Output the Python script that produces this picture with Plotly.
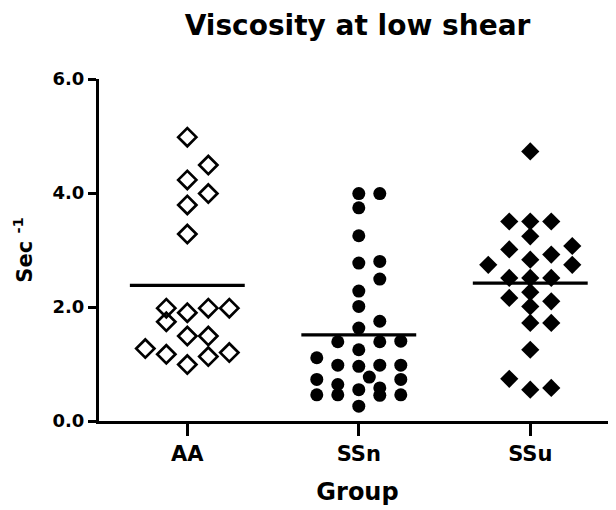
import plotly.graph_objects as go

# ---- data ----
categories = ["AA", "SSn", "SSu"]

aa_values = [4.98, 4.49, 4.23, 3.99, 3.79, 3.28,
             1.98, 1.90, 1.98, 1.98, 1.74, 1.49, 1.49,
             1.27, 1.17, 0.99, 1.13, 1.20]

ssn_values = [3.99, 3.99, 3.74, 3.25, 2.77, 2.80, 2.49, 2.28, 2.01, 1.75, 1.63,
              1.39, 1.39, 1.40, 1.25, 1.11, 0.98, 0.98, 0.98, 0.96,
              0.77, 0.73, 0.73, 0.64, 0.58, 0.55, 0.46, 0.46, 0.46, 0.45, 0.26]

ssu_values = [4.73, 3.50, 3.50, 3.50, 3.24, 3.01, 3.07, 2.92, 2.83, 2.74, 2.74,
              2.51, 2.51, 2.51, 2.26, 2.16, 2.01, 2.10, 1.72, 1.72,
              1.25, 0.74, 0.55, 0.58]

group_means = [2.38, 1.51, 2.42]

y_ticks = [0, 2, 4, 6]

# ---- layout constants ----
# the page body has an 8px margin, so the figure is drawn 8px right/down
PAGE_OFF = 8
W, H = 616 - PAGE_OFF, 510 - PAGE_OFF
ML, MR, MT, MB = 99 - PAGE_OFF, 0, 79 - PAGE_OFF, 89
X_RANGE = [-0.515, 2.5]
Y_RANGE = [0, 6]
px_per_x = (W - ML - MR) / (X_RANGE[1] - X_RANGE[0])
px_per_y = (H - MT - MB) / (Y_RANGE[1] - Y_RANGE[0])
SLOT_PX = 21.0
FONT = "DejaVu Sans, Verdana, sans-serif"


def swarm_offsets(values, row_px):
    """Row-binned scatter: close values share a row, spread centre-out."""
    pattern = [0, 1, -1, 2, -2, 0.5, -0.5, 1.5, -1.5, 3, -3]
    order = sorted(range(len(values)), key=lambda i: values[i])
    offs = [0.0] * len(values)
    rows, row, start = [], [], None
    for i in order:
        y = values[i] * px_per_y
        if start is None or y - start > row_px:
            if row:
                rows.append(row)
            row, start = [i], y
        else:
            row.append(i)
    if row:
        rows.append(row)
    for r in rows:
        for k, i in enumerate(r):
            offs[i] = pattern[k] * SLOT_PX / px_per_x
    return offs


fig = go.Figure()

groups = [
    (aa_values, dict(symbol="diamond-open", size=14, color="black",
                     line=dict(width=2.7, color="black")), 16),
    (ssn_values, dict(symbol="circle", size=13, color="black",
                      line=dict(width=0)), 13),
    (ssu_values, dict(symbol="diamond", size=14, color="black",
                      line=dict(width=0)), 14),
]

for gi, (vals, mk, rowh) in enumerate(groups):
    offs = swarm_offsets(vals, rowh)
    fig.add_trace(go.Scatter(
        x=[gi + o for o in offs], y=vals, mode="markers",
        marker=mk, showlegend=False, cliponaxis=False,
        hoverinfo="y"))

half = 0.335
for gi, m in enumerate(group_means):
    fig.add_trace(go.Scatter(
        x=[gi - half, gi + half], y=[m, m], mode="lines",
        line=dict(color="black", width=3.2), showlegend=False,
        hoverinfo="skip"))

fig.update_layout(
    width=W, height=H,
    margin=dict(l=ML, r=MR, t=MT, b=MB),
    paper_bgcolor="white", plot_bgcolor="white",
    font=dict(family=FONT, color="black"),
    title=dict(text="<b>Viscosity at low shear</b>",
               x=0.5, xref="paper", xanchor="center",
               y=1 - 17.5 / H, yref="container", yanchor="middle",
               font=dict(family=FONT, size=28, color="black")),
    xaxis=dict(range=X_RANGE, tickmode="array",
               tickvals=list(range(len(categories))),
               ticktext=[f"<b>{c}</b>" for c in categories],
               tickfont=dict(family=FONT, size=21, color="black"),
               ticks="outside", ticklen=12, tickwidth=3, tickcolor="black",
               showline=True, linewidth=3, linecolor="black",
               showgrid=False, zeroline=False,
               title=dict(text="<b>Group</b>", standoff=18,
                          font=dict(family=FONT, size=24, color="black"))),
    yaxis=dict(range=Y_RANGE, tickmode="array", tickvals=y_ticks,
               ticktext=[f"<b>{v:.1f}</b>" for v in y_ticks],
               tickfont=dict(family=FONT, size=18, color="black"),
               ticks="outside", ticklen=8, tickwidth=3, tickcolor="black",
               showline=True, linewidth=3, linecolor="black",
               showgrid=False, zeroline=False,
               title=dict(text="<b>Sec <sup>-1</sup></b>", standoff=15,
                          font=dict(family=FONT, size=21, color="black"))),
)

fig.write_html("out.html")
